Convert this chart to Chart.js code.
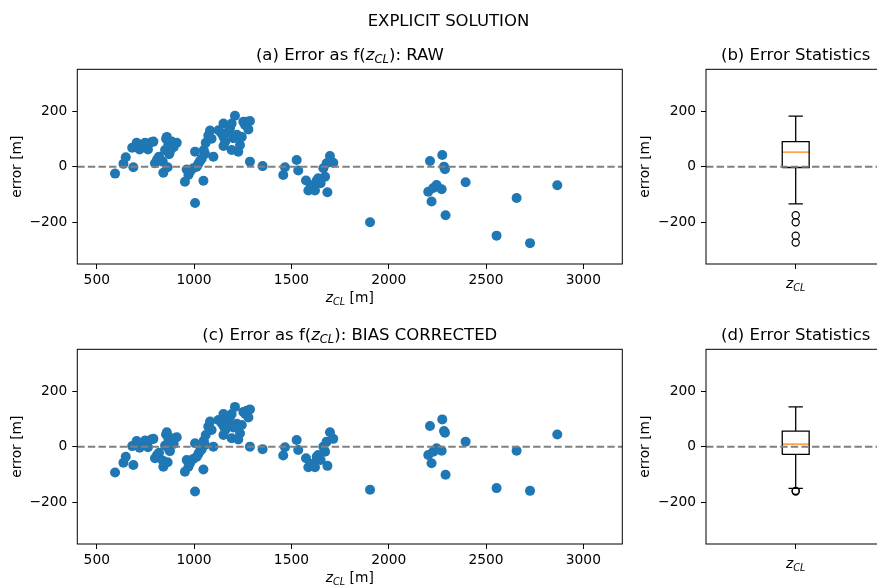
<!DOCTYPE html>
<html>
<head>
  <title>Explicit solution error</title>
  <script src="https://cdn.jsdelivr.net/npm/chart.js"></script>
  <style>
    body { margin: 0; overflow: hidden; background: #fff; }
    #fig { position: relative; width: 877px; height: 586px; overflow: hidden; background: #fff; }
    canvas { position: absolute; }
  </style>
</head>
<body>
  <div id="fig">
    <canvas id="rawScatter" width="640" height="320" style="left:0;top:0"></canvas>
    <canvas id="corScatter" width="640" height="320" style="left:0;top:280px"></canvas>
    <canvas id="rawBox" width="260" height="320" style="left:640px;top:0"></canvas>
    <canvas id="corBox" width="260" height="320" style="left:640px;top:280px"></canvas>
  </div>

  <script>
    // cloud base height z_CL [m] for each case
    const zCL = [594, 637, 649, 688, 682, 705, 720, 748, 763, 780, 791, 799, 810, 820, 839, 842, 851, 856, 860, 864, 868, 872, 876, 885, 895, 911,
      953, 962, 971, 979, 996, 1005, 1005, 1014, 1022, 1030, 1039, 1048, 1050, 1056, 1060, 1073, 1082, 1090, 1099, 1125, 1140, 1151, 1151, 1151, 1160,
      1176, 1185, 1193, 1193, 1202, 1210, 1220, 1227, 1236, 1245, 1253, 1262, 1270, 1279, 1287, 1287, 1352,
      1458, 1467, 1527, 1535, 1575, 1587, 1600, 1613, 1621, 1630, 1638, 1650, 1664, 1673, 1681, 1685, 1698, 1715,
      1904, 2203, 2212, 2220, 2229, 2246, 2272, 2275, 2284, 2289, 2292, 2395, 2554, 2657, 2726, 2866];

    // error [m], raw
    const errRaw = [-25, 10, 34, -2, 68, 86, 62, 86, 62, 88, 90, 12, 26, 36, 18, -22, 60, 100, 107, -2, 80, 45, 54, 90, 70, 86,
      -54, -10, -30, -18, -6, 54, -131, 0, 10, 20, 28, -51, 60, 46, 86, 112, 130, 100, 36, 131, 120, 155, 107, 74, 90,
      125, 140, 155, 60, 102, 183, 115, 54, 78, 107, 161, 150, 161, 134, 164, 18, 2,
      -30, -2, 24, -14, -50, -86, -70, -66, -86, -50, -42, -60, -6, -36, 12, -92, 38, 14,
      -200, -90, 20, -125, -77, -66, -81, 42, 0, -9, -175, -56, -248, -113, -275, -67];

    // error [m], bias corrected
    const errCor = [-93, -58, -36, -66, 2, 20, -4, 22, -2, 26, 28, -42, -30, -22, -50, -72, 4, 44, 52, -56, 28, -12, -16, 30, 10, 34,
      -90, -48, -72, -60, -44, 12, -161, -36, -26, -16, -10, -82, 22, 6, 42, 72, 90, 60, 0, 96, 86, 117, 74, 42, 60,
      90, 108, 117, 30, 69, 143, 82, 26, 48, 78, 125, 118, 129, 105, 134, 0, -9,
      -32, -2, 24, -12, -42, -74, -62, -62, -74, -36, -30, -48, 0, -18, 18, -69, 52, 28,
      -155, -30, 74, -60, -18, -6, -15, 98, 56, 50, -101, 18, -149, -15, -159, 44];

    // box plot statistics: [low whisker, q1, median, q3, high whisker]
    const rawStats = [-134, -3, 52, 90, 182];
    const rawOutliers = [-175, -200, -248, -273];
    const corStats = [-150, -28, 9, 56, 143];
    const corOutliers = [-161, -159];

    const xTicks = [500, 1000, 1500, 2000, 2500, 3000];
    const yTicks = [-200, 0, 200];
    const X_MIN = 400, X_MAX = 3200, Y_MIN = -350, Y_MAX = 350;

    const FONT = 'DejaVu Sans';
    const TICK_SIZE = 13.8;
    const TITLE_SIZE = 16.5;
    Chart.defaults.font.family = FONT;
    Chart.defaults.color = '#000';

    // draw text made of parts: [text, style] with style '' normal, 'i' italic, 's' italic subscript
    function rich(ctx, parts, x, y, size) {
      const fonts = parts.map(p => (p[1] ? 'italic ' : '') + (p[1] === 's' ? size * 0.7 : size) + 'px "' + FONT + '"');
      let w = 0;
      const widths = parts.map((p, i) => { ctx.font = fonts[i]; const m = ctx.measureText(p[0]).width; w += m; return m; });
      let cx = x - w / 2;
      ctx.textAlign = 'left';
      ctx.textBaseline = 'alphabetic';
      parts.forEach((p, i) => {
        ctx.font = fonts[i];
        ctx.fillText(p[0], cx, y + (p[1] === 's' ? size * 0.22 : 0));
        cx += widths[i];
      });
    }

    const zcl = [['z', 'i'], ['CL', 's']];

    const deco = {
      id: 'deco',
      afterDraw(chart, args, opts) {
        const ctx = chart.ctx, a = chart.chartArea;
        const cx = (a.left + a.right) / 2;
        ctx.save();
        ctx.strokeStyle = '#000';
        ctx.lineWidth = 1;
        ctx.strokeRect(a.left, a.top, a.right - a.left, a.bottom - a.top);
        ctx.fillStyle = '#000';
        if (opts.suptitle) rich(ctx, [[opts.suptitle, '']], 448.5, 26, TITLE_SIZE);
        if (opts.title) rich(ctx, opts.title, cx, a.top - 9.5, TITLE_SIZE);
        if (opts.xlabel) rich(ctx, opts.xlabel, cx, a.bottom + 38, TICK_SIZE);
        if (opts.xtick) rich(ctx, opts.xtick, chart.scales.x.getPixelForValue(1), a.bottom + 23.5, TICK_SIZE);
        if (opts.ylabel) {
          ctx.translate(a.left - opts.ylabelOff, (a.top + a.bottom) / 2);
          ctx.rotate(-Math.PI / 2);
          rich(ctx, [[opts.ylabel, '']], 0, 0, TICK_SIZE);
        }
        ctx.restore();
      }
    };

    function yScale(width) {
      return {
        min: Y_MIN, max: Y_MAX,
        afterBuildTicks: s => { s.ticks = yTicks.map(v => ({ value: v })); },
        afterFit: s => { s.width = width; },
        border: { display: false },
        grid: { drawOnChartArea: false, drawTicks: true, tickLength: 5, color: '#000' },
        ticks: {
          font: { size: TICK_SIZE }, padding: 5,
          callback: v => v < 0 ? '\u2212' + Math.abs(v) : String(v)
        }
      };
    }

    function zeroLine(x0, x1) {
      return {
        data: [{ x: x0, y: 0 }, { x: x1, y: 0 }],
        showLine: true, borderColor: '#808080', borderWidth: 2, borderDash: [7.4, 3.2],
        pointRadius: 0, order: 0
      };
    }

    function scatterChart(id, errs, title, suptitle) {
      const pts = zCL.map((z, i) => ({ x: z, y: errs[i] }));
      return new Chart(document.getElementById(id), {
        type: 'scatter',
        data: {
          datasets: [
            zeroLine(X_MIN, X_MAX),
            { data: pts, backgroundColor: '#1f77b4', borderWidth: 0, pointRadius: 5, order: 1 }
          ]
        },
        options: {
          responsive: false, animation: false, events: [],
          layout: { padding: { left: 0, top: 69.3, right: 640 - 622.3, bottom: 0 } },
          scales: {
            x: {
              type: 'linear', min: X_MIN, max: X_MAX,
              afterBuildTicks: s => { s.ticks = xTicks.map(v => ({ value: v })); },
              afterFit: s => { s.height = 56; },
              border: { display: false },
              grid: { drawOnChartArea: false, drawTicks: true, tickLength: 5, color: '#000' },
              ticks: { font: { size: TICK_SIZE }, padding: 3, maxRotation: 0, autoSkip: false, callback: v => String(v) }
            },
            y: yScale(77.3)
          },
          plugins: {
            legend: { display: false }, tooltip: { enabled: false },
            deco: { title: title, suptitle: suptitle, xlabel: zcl.concat([[' [m]', '']]), ylabel: 'error [m]', ylabelOff: 56 }
          }
        },
        plugins: [deco]
      });
    }

    function boxChart(id, stats, outliers, title) {
      const [lo, q1, med, q3, hi] = stats;
      const BW = 0.075, CW = 0.04;
      const seg = (pts, color) => ({
        data: pts, showLine: true, borderColor: color, borderWidth: 1.3, pointRadius: 0, order: 1
      });
      return new Chart(document.getElementById(id), {
        type: 'scatter',
        data: {
          datasets: [
            seg([{ x: 1 - BW, y: q1 }, { x: 1 + BW, y: q1 }, { x: 1 + BW, y: q3 }, { x: 1 - BW, y: q3 }, { x: 1 - BW, y: q1 }], '#000'),
            seg([{ x: 1, y: q3 }, { x: 1, y: hi }], '#000'),
            seg([{ x: 1, y: q1 }, { x: 1, y: lo }], '#000'),
            seg([{ x: 1 - CW, y: hi }, { x: 1 + CW, y: hi }], '#000'),
            seg([{ x: 1 - CW, y: lo }, { x: 1 + CW, y: lo }], '#000'),
            seg([{ x: 1 - BW, y: med }, { x: 1 + BW, y: med }], '#ff7f0e'),
            {
              data: outliers.map(v => ({ x: 1, y: v })), pointRadius: 3.6, borderWidth: 1.2,
              borderColor: '#000', backgroundColor: 'rgba(0,0,0,0)', order: 1
            },
            zeroLine(0.5, 1.5)
          ]
        },
        options: {
          responsive: false, animation: false, events: [],
          layout: { padding: { left: 0, top: 69.3, right: 260 - 245.4, bottom: 0 } },
          scales: {
            x: {
              type: 'linear', min: 0.5, max: 1.5,
              afterBuildTicks: s => { s.ticks = [{ value: 1 }]; },
              afterFit: s => { s.height = 56; },
              border: { display: false },
              grid: { drawOnChartArea: false, drawTicks: true, tickLength: 5, color: '#000' },
              ticks: { font: { size: TICK_SIZE }, callback: () => '' }
            },
            y: yScale(66)
          },
          plugins: {
            legend: { display: false }, tooltip: { enabled: false },
            deco: { title: title, xtick: zcl, ylabel: 'error [m]', ylabelOff: 57.5 }
          }
        },
        plugins: [deco]
      });
    }

    scatterChart('rawScatter', errRaw, [['(a) Error as f(', '']].concat(zcl, [['): RAW', '']]), 'EXPLICIT SOLUTION');
    scatterChart('corScatter', errCor, [['(c) Error as f(', '']].concat(zcl, [['): BIAS CORRECTED', '']]));
    boxChart('rawBox', rawStats, rawOutliers, [['(b) Error Statistics', '']]);
    boxChart('corBox', corStats, corOutliers, [['(d) Error Statistics', '']]);
  </script>
</body>
</html>
